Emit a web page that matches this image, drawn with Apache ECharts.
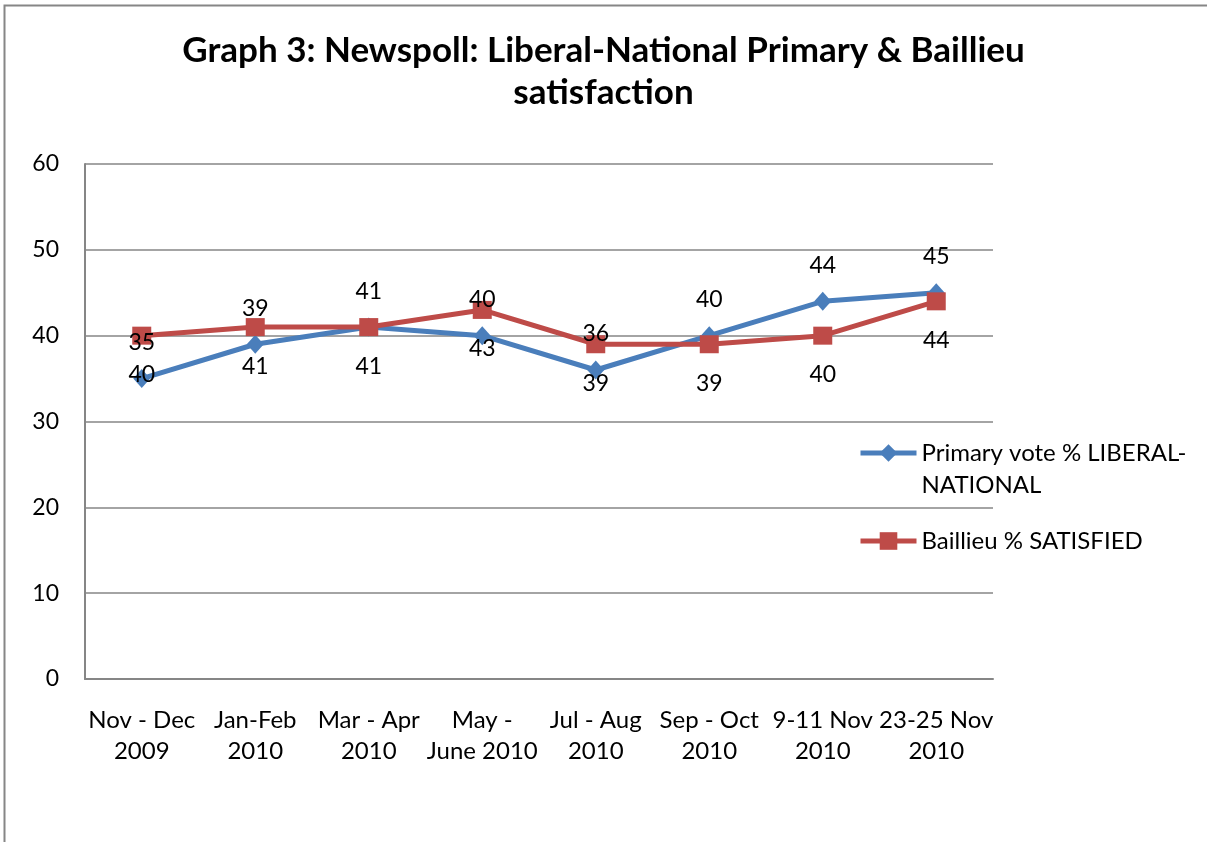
<!DOCTYPE html>
<html>
<head>
<meta charset="utf-8">
<script src="https://cdn.jsdelivr.net/npm/echarts@6/dist/echarts.min.js"></script>
<style>
html,body{margin:0;padding:0;background:#fff;}
#chart{width:1207px;height:842px;}
</style>
</head>
<body>
<div id="chart"></div>
<script>
const categories = ["Nov - Dec\n2009", "Jan-Feb\n2010", "Mar - Apr\n2010", "May -\nJune 2010", "Jul - Aug\n2010", "Sep - Oct\n2010", "9-11 Nov\n2010", "23-25 Nov\n2010"];
const primaryVote = [35, 39, 41, 40, 36, 40, 44, 45];
const baillieuSatisfied = [40, 41, 41, 43, 39, 39, 40, 44];
const seriesNames = ["Primary vote % LIBERAL-NATIONAL", "Baillieu % SATISFIED"];
const titleText = "Graph 3: Newspoll: Liberal-National Primary & Baillieu\nsatisfaction";

const FONT = 'Lato';
const GRID = '#868686';
const BLUE = '#4A7EBB';
const RED = '#BE4B48';

const chart = echarts.init(document.getElementById('chart'), null, {renderer: 'canvas'});
chart.setOption({
  backgroundColor: '#ffffff',
  animation: false,
  title: {
    text: titleText,
    left: 'center',
    top: 25,
    textStyle: {fontFamily: FONT, fontWeight: 'bold', fontSize: 35, lineHeight: 42, color: '#000'}
  },
  graphic: [{
    type: 'rect', silent: true,
    shape: {x: 4.5, y: 5.5, width: 1400, height: 1000},
    style: {fill: 'none', stroke: GRID, lineWidth: 2}
  }],
  legend: [{
    data: [seriesNames[0]],
    left: 858, top: 405, padding: 0,
    itemWidth: 56, itemHeight: 22,
    lineStyle: {width: 5},
    formatter: () => '\nPrimary vote % LIBERAL-\nNATIONAL',
    textStyle: {fontFamily: FONT, fontSize: 24, lineHeight: 32, color: '#000'}
  }, {
    data: [seriesNames[1]],
    left: 858, top: 525, padding: 0,
    itemWidth: 56, itemHeight: 22,
    lineStyle: {width: 5},
    textStyle: {fontFamily: FONT, fontSize: 24, lineHeight: 32, color: '#000'}
  }],
  grid: {left: 85, right: 214, top: 164, bottom: 163, containLabel: false},
  xAxis: {
    type: 'category',
    data: categories,
    boundaryGap: true,
    axisLine: {show: true, lineStyle: {color: GRID, width: 2}},
    axisTick: {show: false},
    axisLabel: {fontFamily: FONT, fontSize: 24, lineHeight: 31, color: '#000', margin: 26, interval: 0}
  },
  yAxis: {
    type: 'value',
    min: 0, max: 60, interval: 10,
    axisLine: {show: true, lineStyle: {color: GRID, width: 2}},
    axisTick: {show: false},
    splitLine: {show: true, lineStyle: {color: GRID, width: 1.5}},
    axisLabel: {fontFamily: FONT, fontSize: 23, color: '#000', margin: 26}
  },
  series: [{
    name: seriesNames[0],
    type: 'line',
    data: primaryVote,
    symbol: 'diamond',
    symbolSize: [17, 19],
    lineStyle: {color: BLUE, width: 5},
    itemStyle: {color: BLUE},
    label: {show: true, position: 'inside', offset: [0, -36], fontFamily: FONT, fontSize: 23, color: '#000'},
    z: 2
  }, {
    name: seriesNames[1],
    type: 'line',
    data: baillieuSatisfied,
    symbol: 'rect',
    symbolSize: [19, 18],
    lineStyle: {color: RED, width: 5},
    itemStyle: {color: RED},
    label: {show: true, position: 'inside', offset: [0, 39], fontFamily: FONT, fontSize: 23, color: '#000'},
    z: 2
  }]
});
</script>
</body>
</html>
